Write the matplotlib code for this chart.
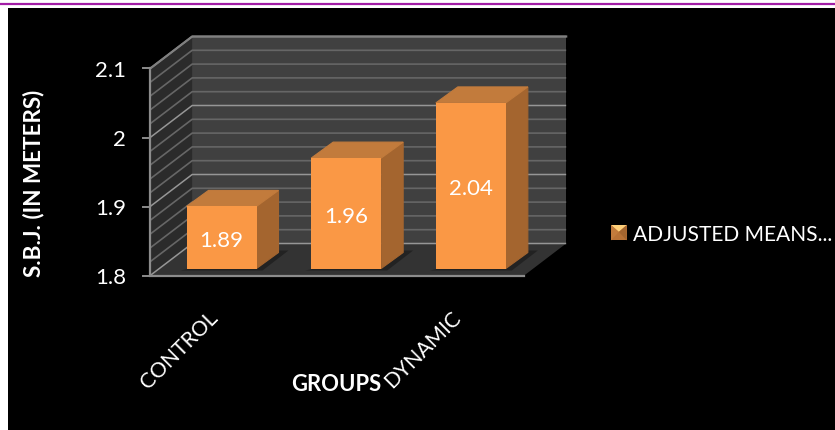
import matplotlib
matplotlib.use("Agg")
import matplotlib.pyplot as plt
from matplotlib.legend_handler import HandlerBase
from matplotlib.lines import Line2D
from matplotlib.patches import Patch, Polygon, Rectangle

plt.rcParams["font.family"] = ["Lato", "DejaVu Sans"]

categories = ["CONTROL", "STATIC", "DYNAMIC"]
shown_labels = ["CONTROL", "", "DYNAMIC"]
label_shift = [-7, 0, -13]
adjusted_means = [1.89, 1.96, 2.04]
value_ticks = [1.8, 1.9, 2.0, 2.1]
tick_labels = ["1.8", "1.9", "2", "2.1"]
minor_grid = [1.82, 1.84, 1.86, 1.88, 1.92, 1.94, 1.96, 1.98,
              2.02, 2.04, 2.06, 2.08]
series_name = "ADJUSTED MEANS..."

W, H = 835, 431
PX_PER_CAT = 124.67
PX_PER_VAL = 690.0
BASE_Y = 1.8
BAR_WIDTH = 70 / PX_PER_CAT

fig = plt.figure(figsize=(W / 100, H / 100), dpi=100, facecolor="white")
ax = fig.add_axes([0, 0, 1, 1])
ax.set_xlim(-221.5 / PX_PER_CAT, (W - 221.5) / PX_PER_CAT)
ax.set_ylim(BASE_Y + (269.5 - H) / PX_PER_VAL, BASE_Y + 269.5 / PX_PER_VAL)
ax.axis("off")


def at(cat, val, ox=0, oy=0):
    """Oblique projection: category/value plus a depth shift in pixels."""
    return (cat + ox / PX_PER_CAT, val + oy / PX_PER_VAL)


FRONT = (-9, -7)
BACK = (33, 25)
BAR_DEPTH = (22, 16)
LEFT, RIGHT = -0.5, 2.5
TOP = value_ticks[-1]


def poly(points, color, z, **kw):
    ax.add_patch(Polygon(points, closed=True, facecolor=color,
                         edgecolor=kw.pop("edge", "none"), zorder=z, **kw))


# Page furniture: rule across the top and the black chart panel
ax.add_patch(Rectangle((0, 0), 8 / W, 1, transform=fig.transFigure,
                       facecolor="white", edgecolor="none", zorder=0))
ax.add_patch(Rectangle((8 / W, 0), 1 - 8 / W, 1 - 9 / H,
                       transform=fig.transFigure,
                       facecolor="black", edgecolor="none", zorder=0))
fig.add_artist(Line2D([0, 1], [1 - 5 / H, 1 - 5 / H], color="#A21CA6", lw=1.6))

# Walls and floor
poly([at(LEFT, BASE_Y, *BACK), at(RIGHT, BASE_Y, *BACK),
      at(RIGHT, TOP, *BACK), at(LEFT, TOP, *BACK)], "#404040", 1)
poly([at(LEFT, BASE_Y, *FRONT), at(LEFT, BASE_Y, *BACK),
      at(LEFT, TOP, *BACK), at(LEFT, TOP, *FRONT)], "#2B2B2B", 1)
poly([at(LEFT, BASE_Y, *FRONT), at(RIGHT, BASE_Y, *FRONT),
      at(RIGHT, BASE_Y, *BACK), at(LEFT, BASE_Y, *BACK)], "#333333", 2)

# Gridlines on both walls
for v, col, lw in ([(m, "#666666", 1.2) for m in minor_grid]
                   + [(t, "#969696", 1.1) for t in value_ticks]):
    xs, ys = zip(at(LEFT, v, *FRONT), at(LEFT, v, *BACK), at(RIGHT, v, *BACK))
    ax.plot(xs, ys, color=col, lw=lw, zorder=2.5 if v > BASE_Y else 3,
            solid_capstyle="butt")

# Axis frame
xs, ys = zip(at(LEFT, TOP, *FRONT), at(LEFT, BASE_Y, *FRONT), at(RIGHT, BASE_Y, *FRONT))
ax.plot(xs, ys, color="#8C8C8C", lw=1.6, zorder=3, solid_joinstyle="miter")
xs, ys = zip(at(LEFT, TOP, *FRONT), at(LEFT, TOP, *BACK), at(RIGHT, TOP, *BACK))
ax.plot(xs, ys, color="#808080", lw=1.6, zorder=3)

# Value ticks on the front edge
for v, lab in zip(value_ticks, tick_labels):
    xs, ys = zip(at(LEFT, v, *FRONT), at(LEFT, v, FRONT[0] - 7, FRONT[1]))
    ax.plot(xs, ys, color="#8C8C8C", lw=1.4, zorder=3)
    x, y = at(LEFT, v, FRONT[0] - 24, FRONT[1] - 1.5)
    ax.text(x, y, lab, color="white", fontsize=16, ha="right", va="center", zorder=6)

# Bars: floor shadow, then side, top and front faces
for i, v in enumerate(adjusted_means):
    l, r = i - BAR_WIDTH / 2, i + BAR_WIDTH / 2
    poly([at(l, BASE_Y, -6, -2), at(r, BASE_Y, 6, -2),
          at(r, BASE_Y, 32, 18), at(r, BASE_Y, 20, 18)], "#222222", 3.5)
    dx, dy = BAR_DEPTH
    poly([at(r, BASE_Y), at(r, BASE_Y, dx, dy), at(r, v, dx, dy), at(r, v)],
         "#A4652F", 4, edge="#A4652F", lw=0.8)
    poly([at(l, v), at(r, v), at(r, v, dx, dy), at(l, v, dx, dy)],
         "#C27B3C", 4, edge="#C27B3C", lw=0.8)
    ax.bar(i, v - BASE_Y, BAR_WIDTH, bottom=BASE_Y, color="#FA9845", zorder=5)
    x, y = at(i, (BASE_Y + v) / 2, 0, -2.5)
    ax.text(x, y, f"{v:.2f}", color="white", fontsize=16,
            ha="center", va="center", zorder=6)

# Category labels, slanted and anchored at their upper-right end
for i, lab in enumerate(shown_labels):
    if lab:
        x, y = at(i, BASE_Y, label_shift[i], -45)
        ax.text(x, y, lab, color="white", fontsize=15.2, rotation=45,
                rotation_mode="anchor", ha="right", va="center", zorder=6)

# Axis titles
ax.text(33.5 / W, 1 - 183 / H, "S.B.J. (IN METERS)", transform=ax.transAxes,
        color="white", fontsize=16.2, fontweight="bold", rotation=90,
        ha="center", va="center")
ax.text(336 / W, 1 - 385 / H, "GROUPS", transform=ax.transAxes,
        color="white", fontsize=15.8, fontweight="bold", ha="center", va="center")


class BevelHandler(HandlerBase):
    """Legend key drawn as a small bevelled square."""

    def create_artists(self, legend, orig, xd, yd, w, h, fontsize, trans):
        x0, y0 = -xd, -yd
        x1, y1 = x0 + w, y0 + h
        cx, cy = (x0 + x1) / 2, y0 + h * 0.55
        faces = [([(x0, y0), (x1, y0), (x1, y1), (x0, y1)], "#B87236"),
                 ([(x0, y1), (x1, y1), (cx, cy)], "#FFD07A"),
                 ([(x0, y0), (x0, y1), (cx, cy)], "#C27B3C"),
                 ([(x1, y0), (x1, y1), (cx, cy)], "#A4652F")]
        return [Polygon(p, closed=True, facecolor=c, edgecolor="none",
                        transform=trans) for p, c in faces]


ax.legend(handles=[Patch(label=series_name)],
          handler_map={Patch: BevelHandler()},
          loc="center left", bbox_to_anchor=(611 / W, 1 - 235 / H),
          bbox_transform=fig.transFigure, frameon=False, borderpad=0,
          borderaxespad=0, handlelength=0.75, handleheight=0.75,
          handletextpad=0.3, labelcolor="white", fontsize=15.1)

fig.savefig("out.png", dpi=100, facecolor="white")
